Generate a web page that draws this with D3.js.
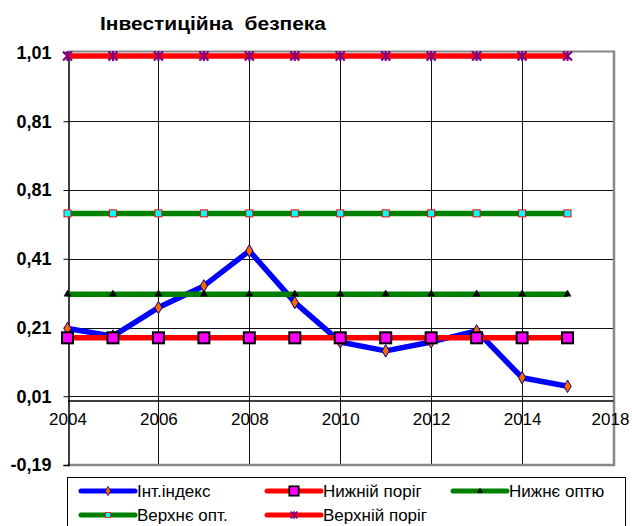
<!DOCTYPE html>
<html lang="uk">
<meta charset="utf-8">
<title>Інвестиційна безпека</title>
<style>
  body { margin: 0; background: #fff; }
  svg text { font-family: "Liberation Sans", Arial, sans-serif; fill: #000; }
</style>
<body>
<div id="chart"></div>
<script src="https://cdn.jsdelivr.net/npm/d3@7"></script>
<script>
// Values
var years = [2004, 2005, 2006, 2007, 2008, 2009, 2010, 2011, 2012, 2013, 2014, 2015];
var intIndex   = [0.207, 0.185, 0.268, 0.331, 0.433, 0.283, 0.168, 0.142, 0.168, 0.200, 0.064, 0.039];
var lowerLimit = [0.18, 0.18, 0.18, 0.18, 0.18, 0.18, 0.18, 0.18, 0.18, 0.18, 0.18, 0.18];
var lowerOpt   = [0.307, 0.307, 0.307, 0.307, 0.307, 0.307, 0.307, 0.307, 0.307, 0.307, 0.307, 0.307];
var upperOpt   = [0.542, 0.542, 0.542, 0.542, 0.542, 0.542, 0.542, 0.542, 0.542, 0.542, 0.542, 0.542];
var upperLimit = [1.0, 1.0, 1.0, 1.0, 1.0, 1.0, 1.0, 1.0, 1.0, 1.0, 1.0, 1.0];

var xTickValues = [2004, 2006, 2008, 2010, 2012, 2014, 2016];
var xTickLabels = ["2004", "2006", "2008", "2010", "2012", "2014", "2018"];
var yTickValues = [-0.19, 0.01, 0.21, 0.41, 0.61, 0.81, 1.01];
var yTickLabels = ["-0,19", "0,01", "0,21", "0,41", "0,81", "0,81", "1,01"];

var seriesNames = ["Інт.індекс", "Нижній поріг", "Нижнє оптю", "Верхнє опт.", "Верхній поріг"];

var W = 632, H = 526;
var svg = d3.select("#chart").append("svg").attr("width", W).attr("height", H);

var x = d3.scaleLinear().domain([2004, 2016]).range([67.5, 613]);
var y = d3.scaleLinear().domain([-0.19, 1.01]).range([465, 52.5]);

// title
svg.append("text").attr("x", 100).attr("y", 30)
  .style("font-size", "18px").style("font-weight", "bold").style("white-space", "pre")
  .attr("textLength", 226).attr("lengthAdjust", "spacingAndGlyphs")
  .text("Інвестиційна  безпека");

// grid
var grid = svg.append("g");
grid.selectAll("line.h").data(yTickValues.slice(1, -1)).enter().append("line")
  .attr("x1", x(2004)).attr("x2", x(2016))
  .attr("y1", d => Math.round(y(d)) + 0.5).attr("y2", d => Math.round(y(d)) + 0.5)
  .attr("stroke", "#111").attr("stroke-width", 1);
grid.selectAll("line.v").data(xTickValues.slice(1, -1)).enter().append("line")
  .attr("x1", d => Math.round(x(d)) + 0.5).attr("x2", d => Math.round(x(d)) + 0.5)
  .attr("y1", y(1.01)).attr("y2", y(-0.19))
  .attr("stroke", "#111").attr("stroke-width", 1);

// plot frame (grey top, right, bottom)
grid.append("line").attr("x1", x(2004)).attr("x2", x(2016) + 1)
  .attr("y1", y(1.01) - 1).attr("y2", y(1.01) - 1).attr("stroke", "#888").attr("stroke-width", 2);
grid.append("line").attr("x1", x(2016) + 1).attr("x2", x(2016) + 1)
  .attr("y1", y(1.01) - 2).attr("y2", y(-0.19) + 1).attr("stroke", "#888").attr("stroke-width", 2.5);
grid.append("line").attr("x1", x(2004)).attr("x2", x(2016) + 2)
  .attr("y1", y(-0.19)).attr("y2", y(-0.19)).attr("stroke", "#888").attr("stroke-width", 2.5);

// y axis
var yAxis = svg.append("g").attr("transform", "translate(" + (Math.round(x(2004)) + 0.5) + ",0)")
  .call(d3.axisLeft(y).tickValues(yTickValues).tickSize(5).tickPadding(12)
    .tickFormat((d, i) => yTickLabels[i]));
yAxis.select(".domain").attr("stroke", "#000").attr("stroke-width", 1.5);
yAxis.selectAll("text").style("font-size", "18px").style("font-weight", "bold");

// x axis crossing at 0
var xAxis = svg.append("g").attr("transform", "translate(0," + (Math.round(y(0)) + 0.5) + ")")
  .call(d3.axisBottom(x).tickValues(xTickValues).tickSize(0).tickPadding(12)
    .tickFormat((d, i) => xTickLabels[i]));
xAxis.select(".domain").attr("stroke", "#000").attr("stroke-width", 1.5);
xAxis.selectAll("text").style("font-size", "17px")
  .attr("dx", (d, i) => i === xTickLabels.length - 1 ? -3 : 0);

// marker shapes
var markers = {
  diamond: function (g) {
    g.append("path").attr("d", d3.symbol(d3.symbolDiamond, 45)())
      .attr("fill", "#ff6600").attr("stroke", "#000080").attr("stroke-width", 1);
  },
  bigSquare: function (g) {
    g.append("rect").attr("x", -5.5).attr("y", -5.5).attr("width", 11).attr("height", 11)
      .attr("fill", "#ff00ff").attr("stroke", "#000").attr("stroke-width", 2);
  },
  triangle: function (g) {
    g.append("path").attr("d", d3.symbol(d3.symbolTriangle, 22)())
      .attr("fill", "#000").attr("stroke", "#000").attr("stroke-width", 0.5);
  },
  cyanSquare: function (g) {
    g.append("rect").attr("x", -3.5).attr("y", -3.5).attr("width", 7).attr("height", 7)
      .attr("fill", "#00ffff").attr("stroke", "#ff0000").attr("stroke-width", 1);
  },
  star: function (g) {
    g.append("path").attr("d", "M-4.5,-4.5L4.5,4.5M-4.5,4.5L4.5,-4.5M0,-5L0,5")
      .attr("stroke", "#800080").attr("stroke-width", 2.2).attr("fill", "none");
  }
};

var series = [
  { name: seriesNames[0], values: intIndex,   color: "#0000ff", marker: markers.diamond },
  { name: seriesNames[1], values: lowerLimit, color: "#ff0000", marker: markers.bigSquare },
  { name: seriesNames[2], values: lowerOpt,   color: "#008000", marker: markers.triangle },
  { name: seriesNames[3], values: upperOpt,   color: "#008000", marker: markers.cyanSquare },
  { name: seriesNames[4], values: upperLimit, color: "#ff0000", marker: markers.star }
];

var line = d3.line().x((d, i) => x(years[i])).y(d => y(d));

series.forEach(function (s) {
  var g = svg.append("g");
  g.append("path").attr("d", line(s.values)).attr("fill", "none")
    .attr("stroke", s.color).attr("stroke-width", 5.5).attr("stroke-linejoin", "round");
  s.values.forEach(function (v, i) {
    var m = g.append("g").attr("transform", "translate(" + x(years[i]) + "," + y(v) + ")");
    s.marker(m);
  });
});

// legend
var legend = svg.append("g");
legend.append("rect").attr("x", 67.5).attr("y", 477.5).attr("width", 558).attr("height", 60)
  .attr("fill", "#fff").attr("stroke", "#000").attr("stroke-width", 1);
var legendPos = [[81, 491], [267, 491], [453, 491], [81, 515], [267, 515]];
series.forEach(function (s, i) {
  var p = legendPos[i];
  var g = legend.append("g").attr("transform", "translate(" + p[0] + "," + p[1] + ")");
  g.append("line").attr("x1", 0).attr("x2", 54).attr("y1", 0).attr("y2", 0)
    .attr("stroke", s.color).attr("stroke-width", 5).attr("stroke-linecap", "round");
  var m = g.append("g").attr("transform", "translate(27,0)" + (i === 1 ? " scale(0.85)" : " scale(0.75)"));
  s.marker(m);
  g.append("text").attr("x", 56).attr("y", 6).style("font-size", "17px").text(s.name);
});
</script>
</body>
</html>
